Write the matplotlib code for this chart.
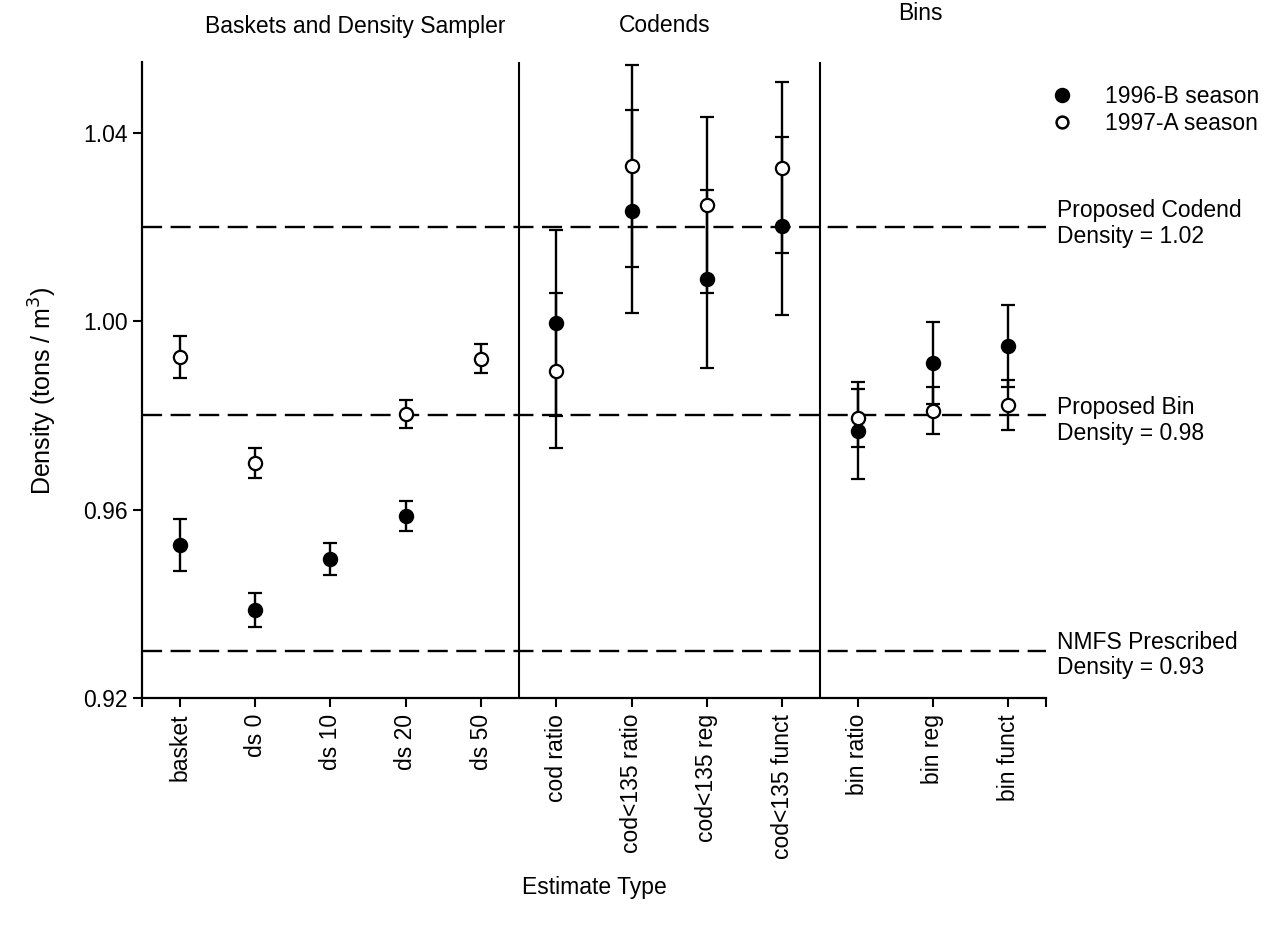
import numpy as np
import matplotlib
matplotlib.use('Agg')
import matplotlib.pyplot as plt
from matplotlib.lines import Line2D

plt.rcParams['font.family'] = ['Liberation Sans', 'DejaVu Sans']

# estimate types along the x axis
categories = ['basket', 'ds 0', 'ds 10', 'ds 20', 'ds 50',
              'cod ratio', 'cod<135 ratio', 'cod<135 reg', 'cod<135 funct',
              'bin ratio', 'bin reg', 'bin funct']

# 1996-B season: mean density and half-width of interval
dens_96b = [0.9525, 0.9387, 0.9495, 0.9587, np.nan,
            0.9996, 1.0233, 1.0090, 1.0202,
            0.9767, 0.9911, 0.9947]
err_96b = [0.0055, 0.0036, 0.0034, 0.0032, np.nan,
           0.0197, 0.0216, 0.0189, 0.0188,
           0.0103, 0.0088, 0.0087]

# 1997-A season
dens_97a = [0.9924, 0.9699, np.nan, 0.9803, 0.9920,
            0.9895, 1.0329, 1.0247, 1.0326,
            0.9794, 0.9810, 0.9822]
err_97a = [0.0045, 0.0031, np.nan, 0.0030, 0.0031,
           0.0165, 0.0214, 0.0187, 0.0182,
           0.0061, 0.0050, 0.0053]

# reference densities drawn as dashed lines
ref_values = [1.02, 0.98, 0.93]
ref_labels = ['Proposed Codend\nDensity = 1.02',
              'Proposed Bin\nDensity = 0.98',
              'NMFS Prescribed\nDensity = 0.93']
ref_offsets = [0.0007, -0.0011, -0.0009]

groups = ['Baskets and Density Sampler', 'Codends', 'Bins']
group_breaks = [5.5, 9.5]

fs = 16.5
x = np.arange(1, len(categories) + 1)

fig = plt.figure(figsize=(12.8, 9.3), dpi=100)
ax = fig.add_axes([142 / 1280, 1 - 698 / 930, 904 / 1280, 636 / 930])

err_kw = dict(fmt='o', color='black', ecolor='black', elinewidth=1.7,
              capsize=4.8, capthick=1.7, markersize=9.5, markeredgewidth=1.6)
ax.errorbar(x, dens_96b, yerr=err_96b, markerfacecolor='black', zorder=3, **err_kw)
ax.errorbar(x, dens_97a, yerr=err_97a, markerfacecolor='white', zorder=4, **err_kw)

for val in ref_values:
    ax.axhline(val, color='black', lw=1.7, dashes=(8.5, 3.6), zorder=1)
for b in group_breaks:
    ax.axvline(b, color='black', lw=1.5, zorder=1)

for val, lab, off in zip(ref_values, ref_labels, ref_offsets):
    ax.text(1.012, val + off, lab, transform=ax.get_yaxis_transform(),
            ha='left', va='center', fontsize=fs, linespacing=1.15)

ax.set_xlim(0.5, 12.5)
ax.set_ylim(0.92, 1.055)
ax.set_xticks(np.concatenate([[0.5], x, [12.5]]))
ax.set_xticklabels([''] + categories + [''], rotation=90, fontsize=fs)
ax.set_yticks([0.92, 0.96, 1.00, 1.04])
ax.set_yticklabels(['0.92', '0.96', '1.00', '1.04'], fontsize=fs)
ax.tick_params(axis='both', direction='out', length=6.5, width=1.5, color='black')
ax.tick_params(axis='x', pad=5)
ax.tick_params(axis='y', pad=4)

for side in ['top', 'right']:
    ax.spines[side].set_visible(False)
for side in ['left', 'bottom']:
    ax.spines[side].set_linewidth(1.6)

ax.set_xlabel('Estimate Type', fontsize=fs, labelpad=12)
ax.set_ylabel('Density (tons / m$^3$)', fontsize=18, labelpad=17)
ax.yaxis.label.set_y(0.483)

# group headings above the panel
fig.text(355 / 1280, 1 - 26 / 930, groups[0], ha='center', va='center', fontsize=fs)
fig.text(665 / 1280, 1 - 26 / 930, groups[1], ha='center', va='center', fontsize=fs)
fig.text(920 / 1280, 1 - 13 / 930, groups[2], ha='center', va='center', fontsize=fs)

handles = [Line2D([], [], ls='none', marker='o', color='black', markerfacecolor='black',
                  markersize=9.5, markeredgewidth=1.6),
           Line2D([], [], ls='none', marker='o', color='black', markerfacecolor='white',
                  markersize=8.5, markeredgewidth=1.8)]
fig.legend(handles, ['1996-B season', '1997-A season'], loc='upper left',
           bbox_to_anchor=(1037 / 1280, 1 - 74 / 930), frameon=False, fontsize=fs,
           handlelength=1.2, handletextpad=1.25, labelspacing=0.17, borderpad=0)

fig.savefig('out.png', dpi=100)
